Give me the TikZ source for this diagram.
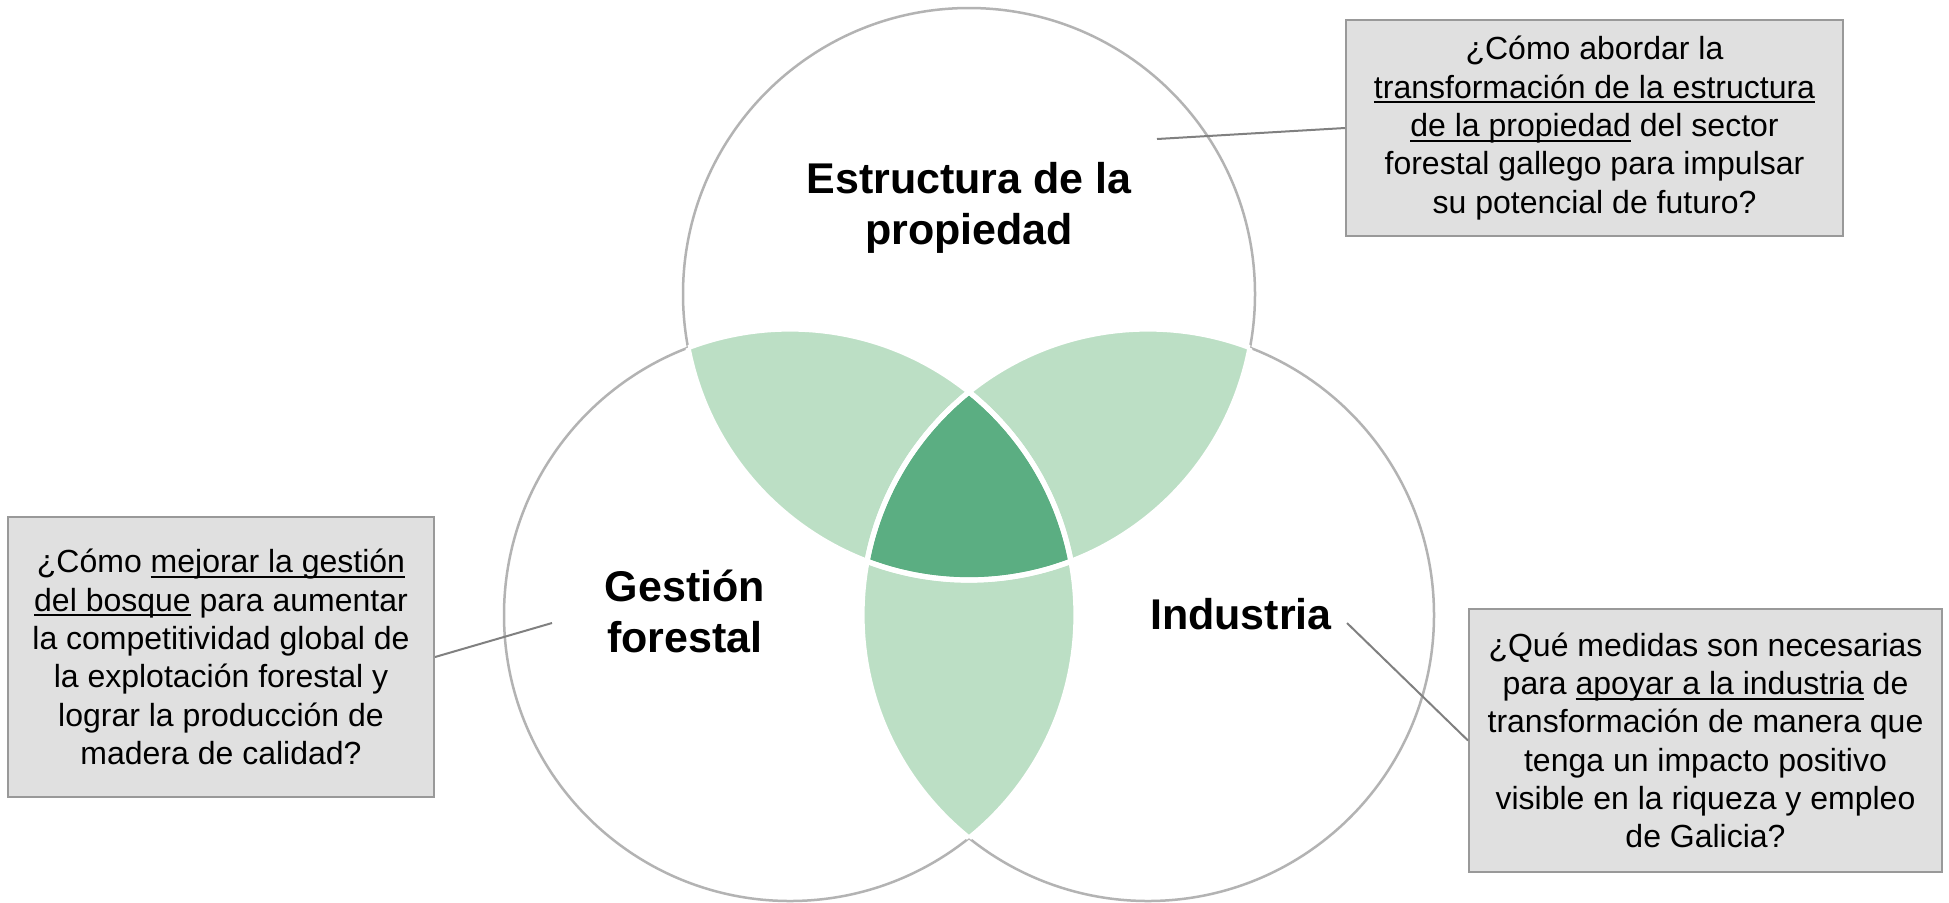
\documentclass[tikz,border=0pt]{standalone}
\usepackage{fontspec}
\setmainfont{Liberation Sans}
\definecolor{circgray}{HTML}{B3B3B3}
\definecolor{boxfill}{HTML}{E0E0E0}
\definecolor{boxline}{HTML}{999999}
\definecolor{linegray}{HTML}{808080}
\definecolor{lightgreen}{HTML}{BCDFC5}
\definecolor{darkgreen}{HTML}{5BAE82}
\newsavebox\ulbox
\newcommand\ulx[1]{\sbox\ulbox{#1}\rlap{\rule[-2.6pt]{\wd\ulbox}{1pt}}\usebox\ulbox}
\begin{document}
\begin{tikzpicture}[x=0.5pt,y=-0.5pt,
  circ/.style={draw=circgray, line width=1.25pt},
  qbox/.style={draw=boxline, fill=boxfill, line width=1pt, inner sep=0pt, align=center,
    font=\fontsize{16}{19.15}\selectfont},
  lbl/.style={font=\fontsize{21.5}{25.5}\selectfont\bfseries, align=center, inner sep=0pt},
  conn/.style={draw=linegray, line width=1pt},
  wline/.style={draw=white, line width=2.6pt}]
\fill[white] (0,0) rectangle (1949,902);
\useasboundingbox (0,0) rectangle (1949,902);
\def\R{143pt}
\coordinate (cT) at (969,294);
\coordinate (cL) at (790,615);
\coordinate (cR) at (1148,615);
% circles
\draw[circ] (cT) circle[radius=\R];
\draw[circ] (cL) circle[radius=\R];
\draw[circ] (cR) circle[radius=\R];
% pairwise intersections
\begin{scope}
  \clip (cT) circle[radius=\R];
  \fill[lightgreen] (cL) circle[radius=\R];
  \fill[lightgreen] (cR) circle[radius=\R];
\end{scope}
\begin{scope}
  \clip (cL) circle[radius=\R];
  \fill[lightgreen] (cR) circle[radius=\R];
\end{scope}
% triple intersection
\begin{scope}
  \clip (cT) circle[radius=\R];
  \clip (cL) circle[radius=\R];
  \fill[darkgreen] (cR) circle[radius=\R];
\end{scope}
% white borders of the overlap regions
\begin{scope}\clip (cL) circle[radius=\R]; \draw[wline] (cT) circle[radius=\R]; \draw[wline] (cR) circle[radius=\R]; \end{scope}
\begin{scope}\clip (cR) circle[radius=\R]; \draw[wline] (cT) circle[radius=\R]; \draw[wline] (cL) circle[radius=\R]; \end{scope}
\begin{scope}\clip (cT) circle[radius=\R]; \draw[wline] (cL) circle[radius=\R]; \draw[wline] (cR) circle[radius=\R]; \end{scope}
% labels
\node[lbl] (lT) at (969,208) {Estructura de la\\propiedad};
\node[lbl] (lL) at (685,611) {Gestión\\forestal};
\node[lbl] (lR) at (1241,614) {Industria};
% boxes
\node[qbox, minimum width=248.5pt, minimum height=108pt] (bT) at (1594.5,128)
  {¿Cómo abordar la\\\ulx{transformación de la estructura}\\\ulx{de la propiedad} del sector\\forestal gallego para impulsar\\su potencial de futuro?};
\node[qbox, minimum width=213pt, minimum height=140pt] (bL) at (221,657)
  {¿Cómo \ulx{mejorar la gestión}\\\ulx{del bosque} para aumentar\\la competitividad global de\\la explotación forestal y\\lograr la producción de\\madera de calidad?};
\node[qbox, minimum width=236.5pt, minimum height=131.5pt] (bR) at (1705.5,740.5)
  {¿Qué medidas son necesarias\\para \ulx{apoyar a la industria} de\\transformación de manera que\\tenga un impacto positivo\\visible en la riqueza y empleo\\de Galicia?};
% connectors
\coordinate (pT) at (1157,139);
\coordinate (pL) at (552,623);
\coordinate (pR) at (1347,623);
\draw[conn] (pT) -- (bT.west);
\draw[conn] (pL) -- (bL.east);
\draw[conn] (pR) -- (bR.west);
\end{tikzpicture}
\end{document}
